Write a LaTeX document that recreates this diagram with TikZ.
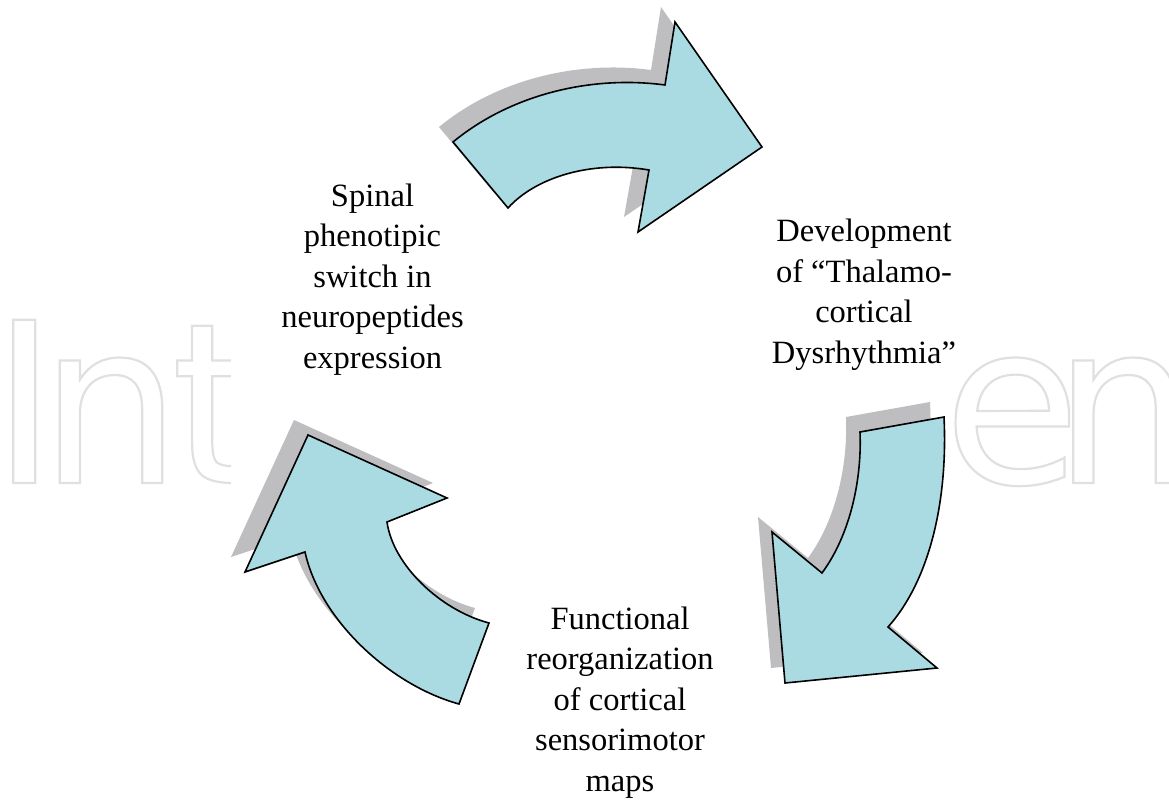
\documentclass[tikz,border=0pt]{standalone}
\usepackage{fontspec}
\setmainfont{Liberation Serif}
\newfontfamily\wmfont{DejaVu Sans}
\makeatletter
\newcommand\wmoutline{\pgfsys@invoke{1 Tr 2.2 w}}
\makeatother
\definecolor{arrowfill}{RGB}{170,219,227}
\definecolor{shadowgray}{RGB}{190,190,193}
\definecolor{wmgray}{RGB}{224,224,224}
\tikzset{
  arrowshape/.style={fill=arrowfill, draw=black, line width=1.6pt, line join=miter},
  shadowshape/.style={fill=shadowgray, draw=none},
  cyclelabel/.style={font=\fontsize{32.5}{40.5}\selectfont, align=center, anchor=base, inner sep=0pt},
  watermark/.style={font=\wmfont\fontsize{224}{224}\selectfont, text=wmgray, anchor=base west, inner sep=0pt}
}
\newcommand\arrowonepath{(453,142) .. controls (510,95) and (590,75) .. (665,85) -- (675,22) -- (762,147) -- (638,232) -- (649,170) .. controls (590,160) and (535,178) .. (508,208) -- cycle}
\newcommand\arrowtwopath{(944,417) .. controls (948,500) and (930,580) .. (888,627) -- (937,668) -- (785,683) -- (772,532) -- (822,573) .. controls (850,535) and (862,480) .. (860,432) -- cycle}
\newcommand\arrowthreepath{(308,435) -- (447,498) -- (387,522) .. controls (393,565) and (440,610) .. (489,623) -- (459,704) .. controls (390,685) and (320,620) .. (305,552) -- (245,572) -- cycle}
\begin{document}
\begin{tikzpicture}[x=1pt,y=-1pt]
  \useasboundingbox (0,0) rectangle (1169,803);
  \fill[white] (0,0) rectangle (1169,803);
  % watermark (cut by the figure's white area, as in the reference)
  \node[watermark] (wmleft) at (-9,483) {\wmoutline I\kern-18pt n\kern-10pt t};
  \node[watermark] (wmright) at (943,483) {\wmoutline e\kern-28pt n};
  \fill[white] (231,0) rectangle (952,803);
  % shadows
  \begin{scope}[shift={(-14,-15)}]
    \fill[shadowshape] \arrowonepath;
    \fill[shadowshape] \arrowtwopath;
    \fill[shadowshape] \arrowthreepath;
  \end{scope}
  % arrows
  \filldraw[arrowshape] \arrowonepath;
  \filldraw[arrowshape] \arrowtwopath;
  \filldraw[arrowshape] \arrowthreepath;
  % labels (anchor base = baseline of the last line)
  \node[cyclelabel] (spinal) at (372.5,368) {Spinal\\phenotipic\\switch in\\neuropeptides\\expression};
  \node[cyclelabel] (thalamo) at (864,363) {Development\\of “Thalamo-\\cortical\\Dysrhythmia”};
  \node[cyclelabel] (cortical) at (620,791) {Functional\\reorganization\\of cortical\\sensorimotor\\maps};
\end{tikzpicture}
\end{document}
